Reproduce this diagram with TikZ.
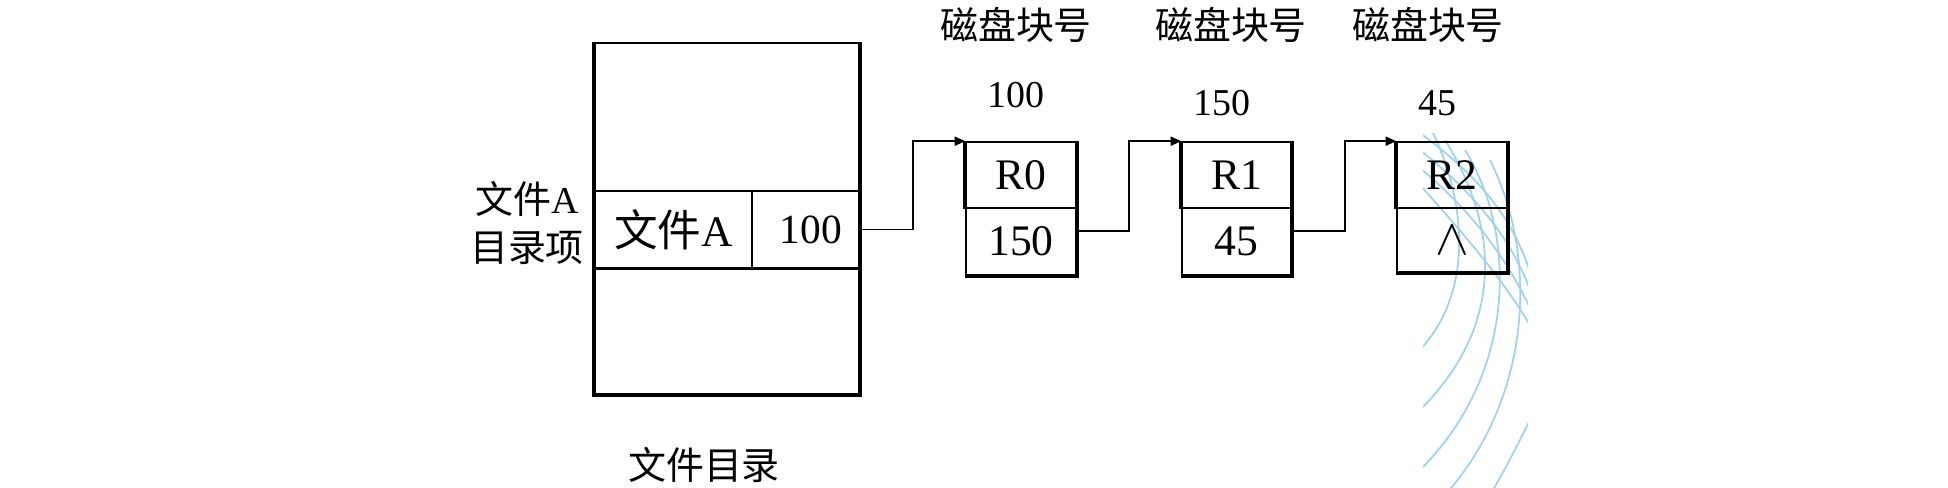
\documentclass[tikz,border=0pt]{standalone}
\usepackage{fontspec}
\setmainfont{Liberation Serif}
\newfontfamily\cjk{Noto Sans CJK SC}
\usetikzlibrary{arrows.meta}
\definecolor{wmblue}{RGB}{160,210,238}

\begin{document}
\begin{tikzpicture}[x=0.01cm,y=-0.01cm,font=\fontsize{10.8pt}{13.4pt}\selectfont,
  box/.style={draw,line width=0.45pt,inner sep=0pt,font=\fontsize{12.4pt}{14pt}\selectfont},
  heavy/.style={line width=1.1pt},
  link/.style={line width=0.45pt,-{Triangle[length=3pt,width=2.6pt]}},
  wm/.style={draw=wmblue,line width=0.5pt}]
\useasboundingbox (0,0) rectangle (1948,488);

            \begin{scope}
            \clip (1423,128) rectangle (1528,488);
            \draw[wm] (1420,133) .. controls (1470,170) and (1510,210) .. (1530,272);
            \draw[wm] (1420,150) .. controls (1470,190) and (1510,235) .. (1530,290);
            \draw[wm] (1420,168) .. controls (1470,210) and (1505,255) .. (1530,308);
            \draw[wm] (1420,185) .. controls (1460,230) and (1500,275) .. (1530,325);
            \draw[wm] (1433,133) .. controls (1465,200) and (1475,290) .. (1420,350);
            \draw[wm] (1445,140) .. controls (1495,220) and (1510,320) .. (1420,410);
            \draw[wm] (1465,150) .. controls (1515,230) and (1520,370) .. (1420,470);
            \draw[wm] (1490,160) .. controls (1540,260) and (1530,400) .. (1445,495);
            \draw[wm] (1535,410) .. controls (1520,440) and (1505,470) .. (1490,495);
            \end{scope}

            \node (dir) at (727,218.5) [box,minimum width=2.64cm,minimum height=3.51cm] {};
            \node (ename) at (673.5,229.5) [box,minimum width=1.57cm,minimum height=0.77cm] {{\cjk 文件}A};
            \node (eptr) at (805.5,229.5) [box,minimum width=1.07cm,minimum height=0.77cm,font=\fontsize{11.8pt}{14pt}\selectfont] {\hspace{3pt}100};
            \draw[heavy] (dir.north west) -- (dir.south west) -- (dir.south east) -- (dir.north east);
            \draw[line width=0.7pt] (ename.south west) -- (eptr.south east);
            \node (entry) at (527,223) [align=center] {{\cjk 文件}A\\{\cjk 目录项}};
            \node (dirlabel) at (704,465) {\cjk 文件目录};

            \node (r0) at (1021,175) [box,minimum width=1.10cm,minimum height=0.66cm] {R0};
            \node (p0) at (1021,241.5) [box,minimum width=1.10cm,minimum height=0.67cm] {150};
            \node (r1) at (1236.5,175) [box,minimum width=1.09cm,minimum height=0.66cm] {R1};
            \node (p1) at (1236.5,241.5) [box,minimum width=1.09cm,minimum height=0.67cm] {45};
            \node (r2) at (1452,175) [box,minimum width=1.10cm,minimum height=0.66cm] {R2};
            \node (p2) at (1452,240) [box,minimum width=1.10cm,minimum height=0.64cm] {\Large$\wedge$};
            \draw[heavy] (r0.north west) -- (r0.south west);
            \draw[heavy] (r0.north east) -- (p0.south east) -- (p0.south west);
            \draw[heavy] (r1.north west) -- (r1.south west);
            \draw[heavy] (r1.north east) -- (p1.south east) -- (p1.south west);
            \draw[heavy] (r2.north west) -- (r2.south west);
            \draw[heavy] (r2.north east) -- (p2.south east) -- (p2.south west);

            \node (h0) at (1016,25) {\cjk 磁盘块号};
            \node (h1) at (1231,25) {\cjk 磁盘块号};
            \node (h2) at (1428,25) {\cjk 磁盘块号};
            \node (n0) at (1016,95) {100};
            \node (n1) at (1222,103) {150};
            \node (n2) at (1437,103) {45};

            \draw[link] (eptr.east) -- ++(53,0) |- (r0.north west);
            \draw[link] ([yshift=3pt]p0.east) -- ++(52,0) |- (r1.north west);
            \draw[link] ([yshift=3pt]p1.east) -- ++(53,0) |- (r2.north west);
\end{tikzpicture}
\end{document}
